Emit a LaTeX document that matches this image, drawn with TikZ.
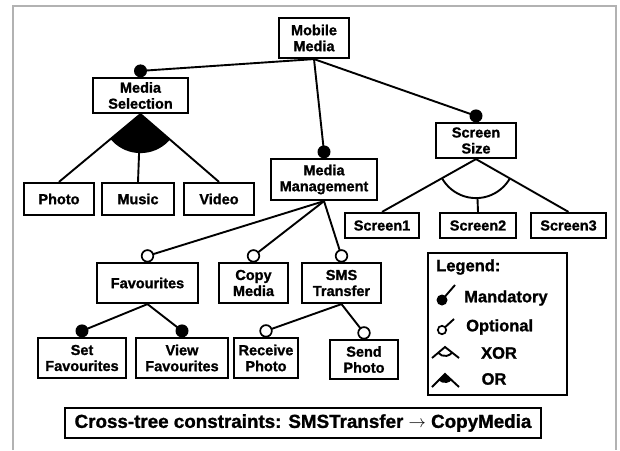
\documentclass[tikz,border=0pt]{standalone}
\usepackage{fontspec}
\setmainfont{Liberation Sans}[BoldFeatures={FakeBold=1.2}]
\usepackage{tikz}
\usetikzlibrary{calc}

\begin{document}
\begin{tikzpicture}[x=1pt, y=1pt,
  feature/.style={rectangle, draw, line width=2.2pt, align=center, inner sep=1pt, font=\fontsize{14.5}{16}\selectfont\bfseries},
  edge/.style={line width=1.9pt},
  mandatory/.style={fill=black},
  optional/.style={draw, fill=white, line width=1.7pt},
  legtext/.style={anchor=west, inner sep=0pt, font=\fontsize{16.5}{18}\selectfont\bfseries}
]

\useasboundingbox (0,0) rectangle (620,-450);

% Frame
\draw[gray!60, line width=1.2pt] (13,-450) -- (13,-6) -- (616,-6) -- (616,-450);

% Root
\node[feature, minimum width=70, minimum height=40] (mobile) at (314,-38) {Mobile\\Media};

% First level
\node[feature, minimum width=95, minimum height=35] (msel) at (140.5,-95.5) {Media\\Selection};
\node[feature, minimum width=106, minimum height=41] (mman) at (324,-179.5) {Media\\Management};
\node[feature, minimum width=80, minimum height=35] (ssize) at (476,-140.5) {Screen\\Size};

% Media selection children
\node[feature, minimum width=70, minimum height=32] (photo) at (59,-199) {Photo};
\node[feature, minimum width=72, minimum height=32] (music) at (138,-199) {Music};
\node[feature, minimum width=70, minimum height=32] (video) at (219,-199) {Video};

% Screen size children
\node[feature, minimum width=74, minimum height=25] (scr1) at (382,-225.5) {Screen1};
\node[feature, minimum width=76, minimum height=25] (scr2) at (478,-225.5) {Screen2};
\node[feature, minimum width=75, minimum height=25] (scr3) at (568.5,-225.5) {Screen3};

% Media management children
\node[feature, minimum width=101, minimum height=40] (fav) at (147.5,-283) {Favourites};
\node[feature, minimum width=69, minimum height=40] (copy) at (253.5,-283) {Copy\\Media};
\node[feature, minimum width=79, minimum height=40] (sms) at (341.5,-283) {SMS\\Transfer};

% Third level
\node[feature, minimum width=88, minimum height=40] (setf) at (82,-358) {Set\\Favourites};
\node[feature, minimum width=92, minimum height=40] (viewf) at (182,-358) {View\\Favourites};
\node[feature, minimum width=64, minimum height=40] (recv) at (266,-358) {Receive\\Photo};
\node[feature, minimum width=68, minimum height=39] (send) at (364,-359.5) {Send\\Photo};

% Connection points
\coordinate (mselc) at ([yshift=6pt]msel.north);
\coordinate (mmanc) at ([yshift=6pt]mman.north);
\coordinate (ssizec) at ([yshift=6pt]ssize.north);
\coordinate (favc) at ([yshift=6pt]fav.north);
\coordinate (copyc) at ([yshift=6pt]copy.north);
\coordinate (smsc) at ([yshift=6pt]sms.north);
\coordinate (setfc) at ([yshift=6pt]setf.north);
\coordinate (viewfc) at ([yshift=6pt]viewf.north);
\coordinate (recvc) at ([yshift=6pt]recv.north);
\coordinate (sendc) at ([yshift=6pt]send.north);

% Edges
\draw[edge] (mobile.south) -- (mselc);
\draw[edge] (mobile.south) -- (mmanc);
\draw[edge] (mobile.south) -- (ssizec);
\draw[edge] (mman.south) -- (favc);
\draw[edge] (mman.south) -- (copyc);
\draw[edge] (mman.south) -- (smsc);
\draw[edge] (fav.south) -- (setfc);
\draw[edge] (fav.south) -- (viewfc);
\draw[edge] (sms.south) -- (recvc);
\draw[edge] (sms.south) -- (sendc);

% Mandatory
\fill[mandatory] (mselc) circle (6.5pt);
\fill[mandatory] (mmanc) circle (6.5pt);
\fill[mandatory] (ssizec) circle (6.5pt);
\fill[mandatory] (setfc) circle (6.5pt);
\fill[mandatory] (viewfc) circle (6.5pt);

% Optional
\path[optional] (favc) circle (5.8pt);
\path[optional] (copyc) circle (5.8pt);
\path[optional] (smsc) circle (5.8pt);
\path[optional] (recvc) circle (5.8pt);
\path[optional] (sendc) circle (5.8pt);

% OR group
\draw[edge] (msel.south) -- (photo.north);
\draw[edge] (msel.south) -- (music.north);
\draw[edge] (msel.south) -- (video.north);
\begin{scope}
  \clip (msel.south) circle (39pt);
  \fill (msel.south) -- (photo.north) -- (video.north) -- cycle;
\end{scope}

% XOR group
\draw[edge] (ssize.south) -- (scr1.north);
\draw[edge] ($(ssize.south)!39pt!(scr2.north)$) -- (scr2.north);
\draw[edge] (ssize.south) -- (scr3.north);
\begin{scope}
  \clip (ssize.south) -- (scr1.north) -- (scr3.north) -- cycle;
  \draw[edge] (ssize.south) circle (39pt);
\end{scope}

% Legend
\node[draw, line width=2.2pt, minimum width=139, minimum height=142] (legend) at (497.5,-324) {};
\node[legtext] (legtitle) at (436,-267) {Legend:};
\draw[edge] (442,-300) -- (455,-285);
\fill[mandatory] (442,-300) circle (5.5pt);
\node[legtext] (legmand) at (464,-298) {Mandatory};
\draw[edge] (442,-330) -- (454,-319);
\path[optional] (442,-330) circle (4.2pt);
\node[legtext] (legopt) at (466,-327) {Optional};
\draw[edge] (432,-358) -- (445,-347) -- (459,-358);
\draw[edge] (445,-347) ++(220:9pt) arc (220:322:9pt);
\node[legtext, anchor=center] (legxor) at (499,-353) {XOR};
\draw[edge] (432,-387) -- (445,-374) -- (459,-387);
\fill (445,-374) -- ++(220:9pt) arc (220:322:9pt) -- cycle;
\node[legtext, anchor=center] (legor) at (494,-379) {OR};

% Cross-tree constraints
\node[feature, minimum width=476, minimum height=30, font=\fontsize{18.8}{20}\selectfont\bfseries] (ctc) at (303,-423) {Cross-tree constraints: SMSTransfer $\rightarrow$ CopyMedia};

\end{tikzpicture}
\end{document}
